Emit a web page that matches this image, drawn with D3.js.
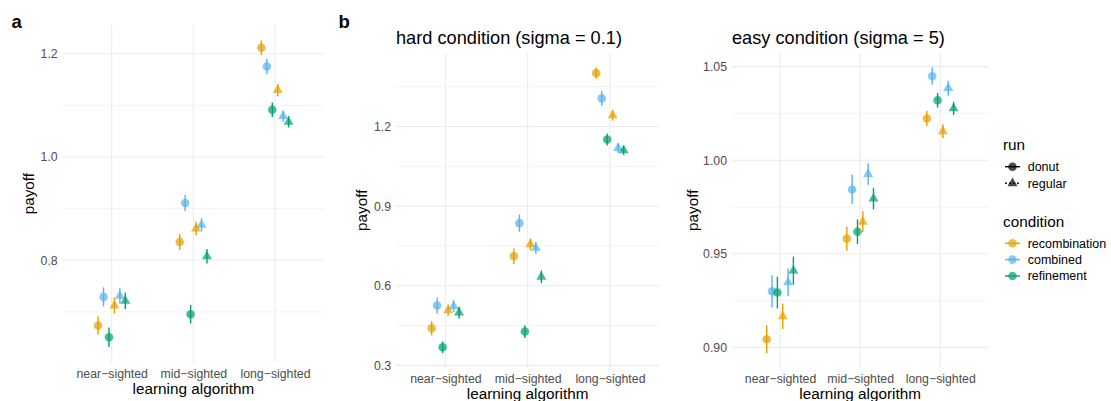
<!DOCTYPE html>
<html>
<head>
<meta charset="utf-8">
<script src="https://cdn.jsdelivr.net/npm/d3@7"></script>
<style>
  html, body { margin: 0; padding: 0; background: #fff; }
  svg { display: block; font-family: "Liberation Sans", Arial, Helvetica, sans-serif; }
</style>
</head>
<body>
<svg id="chart" width="1111" height="401"></svg>
<script>
// ---- data -------------------------------------------------------------
const algorithms = ["near\u2212sighted", "mid\u2212sighted", "long\u2212sighted"];
const runs = ["donut", "regular"];
const conditions = ["recombination", "combined", "refinement"];
const conditionColors = ["#E69F00", "#56B4E9", "#009E73"];

// rows = condition (recombination, combined, refinement), columns = algorithm
// panel a: overall
const overallDonutMean = [[0.6736, 0.8356, 1.2116], [0.7291, 0.9110, 1.1754], [0.6509, 0.6955, 1.0916]];
const overallDonutErr  = [[0.0180, 0.0155, 0.0145], [0.0185, 0.0155, 0.0150], [0.0188, 0.0180, 0.0140]];
const overallRegularMean = [[0.7123, 0.8614, 1.1297], [0.7311, 0.8685, 1.0794], [0.7214, 0.8077, 1.0683]];
const overallRegularErr  = [[0.0155, 0.0130, 0.0120], [0.0155, 0.0130, 0.0110], [0.0160, 0.0140, 0.0110]];
const overallTicks = [0.8, 1.0, 1.2];
const overallMinor = [0.7, 0.9, 1.1];

// panel b: hard condition
const hardDonutMean = [[0.4400, 0.7110, 1.4010], [0.5260, 0.8360, 1.3060], [0.3687, 0.4275, 1.1510]];
const hardDonutErr  = [[0.0270, 0.0290, 0.0210], [0.0300, 0.0325, 0.0275], [0.0220, 0.0240, 0.0230]];
const hardRegularMean = [[0.5074, 0.7560, 1.2424], [0.5236, 0.7425, 1.1187], [0.4987, 0.6340, 1.1100]];
const hardRegularErr  = [[0.0225, 0.0225, 0.0200], [0.0220, 0.0220, 0.0180], [0.0220, 0.0240, 0.0170]];
const hardTicks = [0.3, 0.6, 0.9, 1.2];
const hardMinor = [0.45, 0.75, 1.05, 1.35];

// panel c: easy condition
const easyDonutMean = [[0.9044, 0.9581, 1.0223], [0.9300, 0.9844, 1.0449], [0.9293, 0.9618, 1.0320]];
const easyDonutErr  = [[0.0074, 0.0064, 0.0040], [0.0085, 0.0078, 0.0046], [0.0085, 0.0066, 0.0039]];
const easyRegularMean = [[0.9166, 0.9671, 1.0155], [0.9348, 0.9926, 1.0385], [0.9410, 0.9795, 1.0277]];
const easyRegularErr  = [[0.0068, 0.0056, 0.0037], [0.0075, 0.0058, 0.0040], [0.0075, 0.0058, 0.0035]];
const easyTicks = [0.90, 0.95, 1.00, 1.05];
const easyMinor = [0.925, 0.975, 1.025];

// ---- drawing ----------------------------------------------------------
const svg = d3.select("#chart");
const GRID = "#EBEBEB";
const AXIS_TEXT = "#4D4D4D";
const POINT_ALPHA = 0.7;

function rows(donutMean, donutErr, regularMean, regularErr) {
  const out = [];
  [[donutMean, donutErr], [regularMean, regularErr]].forEach(([m, e], r) => {
    conditions.forEach((c, ci) => {
      algorithms.forEach((a, ai) => {
        out.push({ run: runs[r], condition: c, ci, algorithm: a,
                   group: r * 3 + ci, mean: m[ci][ai], err: e[ci][ai] });
      });
    });
  });
  return out;
}

function panel(cfg) {
  const g = svg.append("g");
  const { left, right, top, bottom } = cfg;
  const data = cfg.data;

  const x = d3.scalePoint().domain(algorithms).range([left, right]).padding(0.6);
  const lo = d3.min(data, d => d.mean - d.err);
  const hi = d3.max(data, d => d.mean + d.err);
  const pad = (hi - lo) * 0.05;
  const y = d3.scaleLinear().domain([lo - pad, hi + pad]).range([bottom, top]);

  // gridlines
  g.append("g").selectAll("line").data(cfg.minor).join("line")
    .attr("x1", left).attr("x2", right)
    .attr("y1", d => y(d)).attr("y2", d => y(d))
    .attr("stroke", GRID).attr("stroke-width", 0.6);
  g.append("g").selectAll("line").data(cfg.ticks).join("line")
    .attr("x1", left).attr("x2", right)
    .attr("y1", d => y(d)).attr("y2", d => y(d))
    .attr("stroke", GRID).attr("stroke-width", 1.1);
  g.append("g").selectAll("line").data(algorithms).join("line")
    .attr("x1", d => x(d)).attr("x2", d => x(d))
    .attr("y1", top).attr("y2", bottom)
    .attr("stroke", GRID).attr("stroke-width", 1.1);

  // axes (text only, no lines)
  const yAxis = d3.axisLeft(y).tickValues(cfg.ticks).tickFormat(cfg.fmt).tickSize(0).tickPadding(5);
  const ya = g.append("g").attr("transform", `translate(${left},0)`).call(yAxis);
  ya.select(".domain").remove();
  ya.selectAll("text").attr("fill", AXIS_TEXT).attr("font-size", 12.3)
    .attr("font-family", "Liberation Sans, Arial, sans-serif");

  const xAxis = d3.axisBottom(x).tickSize(0).tickPadding(5);
  const xa = g.append("g").attr("transform", `translate(0,${bottom})`).call(xAxis);
  xa.select(".domain").remove();
  xa.selectAll("text").attr("fill", AXIS_TEXT).attr("font-size", 12.3)
    .attr("font-family", "Liberation Sans, Arial, sans-serif").attr("dy", "0.85em");

  g.append("text").attr("x", (left + right) / 2).attr("y", bottom + 31.4)
    .attr("text-anchor", "middle").attr("font-size", 15.3).attr("fill", "#000")
    .text("learning algorithm");
  g.append("text")
    .attr("transform", `translate(${cfg.yTitleX},${(top + bottom) / 2}) rotate(-90)`)
    .attr("text-anchor", "middle").attr("font-size", 15.3).attr("fill", "#000")
    .text("payoff");

  if (cfg.title) {
    g.append("text").attr("x", left).attr("y", 44).attr("font-size", 18.2)
      .attr("fill", "#000").text(cfg.title);
  }
  g.append("text").attr("x", cfg.tagX).attr("y", 27.5).attr("font-size", 18.5)
    .attr("font-weight", "bold").attr("fill", "#000").text(cfg.tag);

  // dodged point ranges
  const step = x.step();
  const dodge = grp => (grp - 2.5) * (0.4 / 6) * step;
  const px = d => x(d.algorithm) + dodge(d.group);

  const marks = g.append("g");
  marks.selectAll("line").data(data).join("line")
    .attr("x1", px).attr("x2", px)
    .attr("y1", d => y(d.mean - d.err)).attr("y2", d => y(d.mean + d.err))
    .attr("stroke", d => conditionColors[d.ci]).attr("stroke-width", 1.4);
  marks.selectAll("path").data(data).join("path")
    .attr("transform", d => `translate(${px(d)},${y(d.mean)})`)
    .attr("d", d => d.run === "donut"
      ? d3.symbol(d3.symbolCircle, 58)()
      : d3.symbol(d3.symbolTriangle, 44)())
    .attr("fill", d => conditionColors[d.ci]).attr("fill-opacity", POINT_ALPHA);
}

const fmt1 = d3.format(".1f");
const fmt2 = d3.format(".2f");

panel({ data: rows(overallDonutMean, overallDonutErr, overallRegularMean, overallRegularErr),
        left: 62.7, right: 324, top: 25, bottom: 362.3,
        ticks: overallTicks, minor: overallMinor, fmt: fmt1,
        yTitleX: 33.5, tag: "a", tagX: 11.5, title: null });

panel({ data: rows(hardDonutMean, hardDonutErr, hardRegularMean, hardRegularErr),
        left: 396, right: 659.3, top: 53.3, bottom: 367.3,
        ticks: hardTicks, minor: hardMinor, fmt: fmt1,
        yTitleX: 366.5, tag: "b", tagX: 338.5, title: "hard condition (sigma = 0.1)" });

panel({ data: rows(easyDonutMean, easyDonutErr, easyRegularMean, easyRegularErr),
        left: 732, right: 988.3, top: 53.3, bottom: 367.3,
        ticks: easyTicks, minor: easyMinor, fmt: fmt2,
        yTitleX: 697.5, tag: "", tagX: 0, title: "easy condition (sigma = 5)" });

// ---- legends ----------------------------------------------------------
const leg = svg.append("g");
const keyX0 = 1005, keyX1 = 1020, keyXc = 1012.5, textX = 1027.7;

leg.append("text").attr("x", 1003).attr("y", 150).attr("font-size", 15.3).text("run");
const runY = [166.7, 183.3];
runs.forEach((r, i) => {
  leg.append("line").attr("x1", keyX0).attr("x2", keyX1).attr("y1", runY[i]).attr("y2", runY[i])
    .attr("stroke", "#000").attr("stroke-width", 1.4)
    .attr("stroke-dasharray", i === 1 ? "1.8,2.2" : null);
  leg.append("path").attr("transform", `translate(${keyXc},${runY[i]})`)
    .attr("d", i === 0 ? d3.symbol(d3.symbolCircle, 58)() : d3.symbol(d3.symbolTriangle, 44)())
    .attr("fill", "#000").attr("fill-opacity", POINT_ALPHA);
  leg.append("text").attr("x", textX).attr("y", runY[i]).attr("dy", "0.35em")
    .attr("font-size", 12.5).attr("fill", "#000").text(r);
});

leg.append("text").attr("x", 1003).attr("y", 226.7).attr("font-size", 15.3).text("condition");
const condY = [243.3, 259.6, 276];
conditions.forEach((c, i) => {
  leg.append("line").attr("x1", keyX0).attr("x2", keyX1).attr("y1", condY[i]).attr("y2", condY[i])
    .attr("stroke", conditionColors[i]).attr("stroke-width", 1.4);
  leg.append("path").attr("transform", `translate(${keyXc},${condY[i]})`)
    .attr("d", d3.symbol(d3.symbolCircle, 58)())
    .attr("fill", conditionColors[i]).attr("fill-opacity", POINT_ALPHA);
  leg.append("text").attr("x", textX).attr("y", condY[i]).attr("dy", "0.35em")
    .attr("font-size", 12.5).attr("fill", "#000").text(c);
});
</script>
</body>
</html>
